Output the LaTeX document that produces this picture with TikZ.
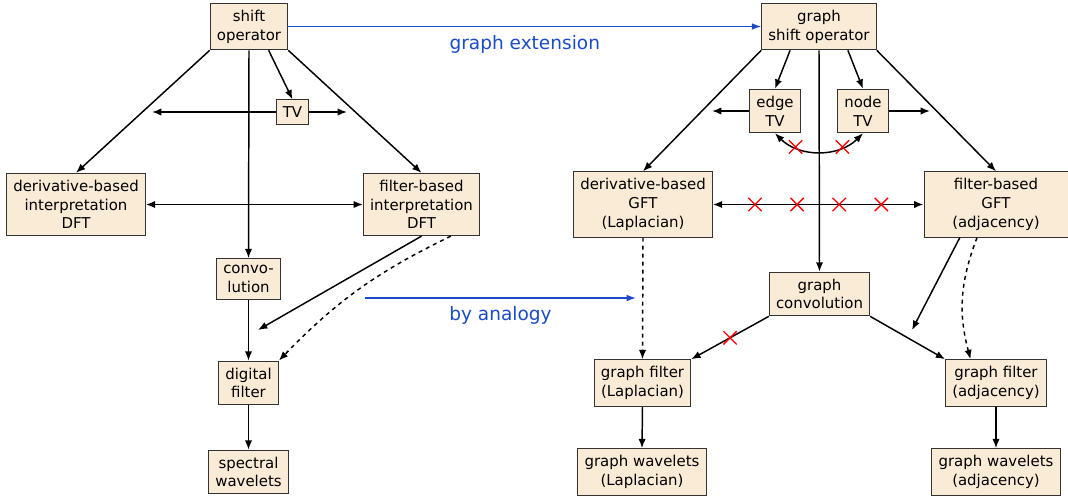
\documentclass[tikz,border=0pt]{standalone}
\usepackage{fontspec}
\setmainfont{DejaVu Sans}
\usetikzlibrary{
    arrows.meta,   % Arrow tips
    shapes.misc,   % Cross out marks
    calc           % Coordinate calculations
}

\definecolor{boxfill}{RGB}{250,235,215}
\definecolor{linkblue}{RGB}{25,75,200}

\tikzset{
    block/.style={draw=black!80, line width=0.75pt, fill=boxfill, align=center,
        inner xsep=5pt, inner ysep=5pt, font=\fontsize{11.2}{14.1}\selectfont},
    conn/.style={-{Latex[length=7pt,width=5.5pt]}, line width=1.1pt},
    twoway/.style={{Latex[length=7pt,width=5.5pt]}-{Latex[length=7pt,width=5.5pt]}, line width=1.1pt},
    analogy/.style={-{Latex[length=7pt,width=5pt]}, draw=linkblue, line width=1pt},
    bluetext/.style={text=linkblue, font=\fontsize{13.9}{16}\selectfont},
    nogo/.style={cross out, draw=red, line width=1pt, minimum size=9pt, inner sep=0pt}
}

\begin{document}
\begin{tikzpicture}[x=0.75pt,y=-0.75pt]
    \useasboundingbox (0,0) rectangle (1068,500);

    % classical side
    \node[block] (shift)   at (249,26.5)  {shift\\operator};
    \node[block] (tv)      at (292.5,112) {TV};
    \node[block] (dftd)    at (76,204.5)  {derivative-based\\interpretation\\DFT};
    \node[block] (dftf)    at (421.5,204.5) {filter-based\\interpretation\\DFT};
    \node[block] (conv)    at (248.5,279) {convo-\\lution};
    \node[block] (digital) at (248.5,383) {digital\\filter};
    \node[block] (spec)    at (248.5,472) {spectral\\wavelets};

    \coordinate (tvl) at (152,112);
    \coordinate (tvr) at (347,112);
    \coordinate (dfthint) at (258,330);

    \draw[conn] (shift.south west) -- (dftd.north);
    \draw[conn] (shift.south east) -- (dftf.north);
    \draw[conn] ($(shift.south)!0.5!(shift.south east)$) -- (tv.north);
    \draw[conn] (shift.south) -- (conv.north);
    \draw[conn] (tv.west) -- (tvl);
    \draw[conn] (tv.east) -- (tvr);
    \draw[twoway] (dftd.east) -- (dftf.west);
    \draw[conn] (conv.south) -- (digital.north);
    \draw[conn] (digital.south) -- (spec.north);
    \draw[conn] (dftf.south) -- (dfthint);
    \draw[conn, dashed] ($(dftf.south)!0.5!(dftf.south east)$) to[bend right=10] (digital.north east);

    % graph side
    \node[block] (gso)   at (819,26.5)  {graph\\shift operator};
    \node[block] (etv)   at (775,111)   {edge\\TV};
    \node[block] (ntv)   at (863,111)   {node\\TV};
    \node[block] (gftd)  at (643,204.5) {derivative-based\\GFT\\(Laplacian)};
    \node[block, minimum width=108pt] (gftf) at (996,204.5) {filter-based\\GFT\\(adjacency)};
    \node[block] (gconv) at (819.5,294) {graph\\convolution};
    \node[block] (gfl)   at (642.5,383) {graph filter\\(Laplacian)};
    \node[block] (gfa)   at (996,383)   {graph filter\\(adjacency)};
    \node[block] (gwl)   at (642,472)   {graph wavelets\\(Laplacian)};
    \node[block] (gwa)   at (996,472)   {graph wavelets\\(adjacency)};

    \coordinate (etvl) at (712,111);
    \coordinate (ntvr) at (930,111);
    \coordinate (gfthint) at (912,330);

    \draw[conn] (gso.south west) -- (gftd.north);
    \draw[conn] (gso.south east) -- (gftf.north);
    \draw[conn] ($(gso.south)!0.5!(gso.south west)$) -- (etv.north);
    \draw[conn] ($(gso.south)!0.5!(gso.south east)$) -- (ntv.north);
    \draw[conn] (gso.south) -- (gconv.north);
    \draw[conn] (etv.west) -- (etvl);
    \draw[conn] (ntv.east) -- (ntvr);
    \draw[twoway] (etv.south) to[bend right=45]
        node[nogo, pos=0.25] (x1) {} node[nogo, pos=0.75] (x2) {} (ntv.south);
    \draw[twoway] (gftd.east) --
        node[nogo, pos=0.2] (x3) {} node[nogo, pos=0.4] (x4) {}
        node[nogo, pos=0.6] (x5) {} node[nogo, pos=0.8] (x6) {} (gftf.west);
    \draw[conn, dashed] (gftd.south) -- (gfl.north);
    \draw[conn] (gconv.south west) -- node[nogo, pos=0.5] (x7) {} (gfl.north east);
    \draw[conn] (gconv.south east) -- (gfa.north west);
    \draw[conn] ($(gftf.south)!0.5!(gftf.south west)$) -- (gfthint);
    \draw[conn, dashed] ($(gftf.south)+(-19,0)$) to[bend right=18] ($(gfa.north)!0.5!(gfa.north west)$);
    \draw[conn] (gfl.south) -- (gwl.north);
    \draw[conn] (gfa.south) -- (gwa.north);

    % links between the two sides
    \coordinate (anl) at (365,298);
    \coordinate (anr) at (636,298);
    \draw[analogy] (shift.east) -- node[bluetext, below=2.5pt] (ext) {graph extension} (gso.west);
    \draw[analogy] (anl) -- node[bluetext, below=2.5pt] (ana) {by analogy} (anr);
\end{tikzpicture}
\end{document}
